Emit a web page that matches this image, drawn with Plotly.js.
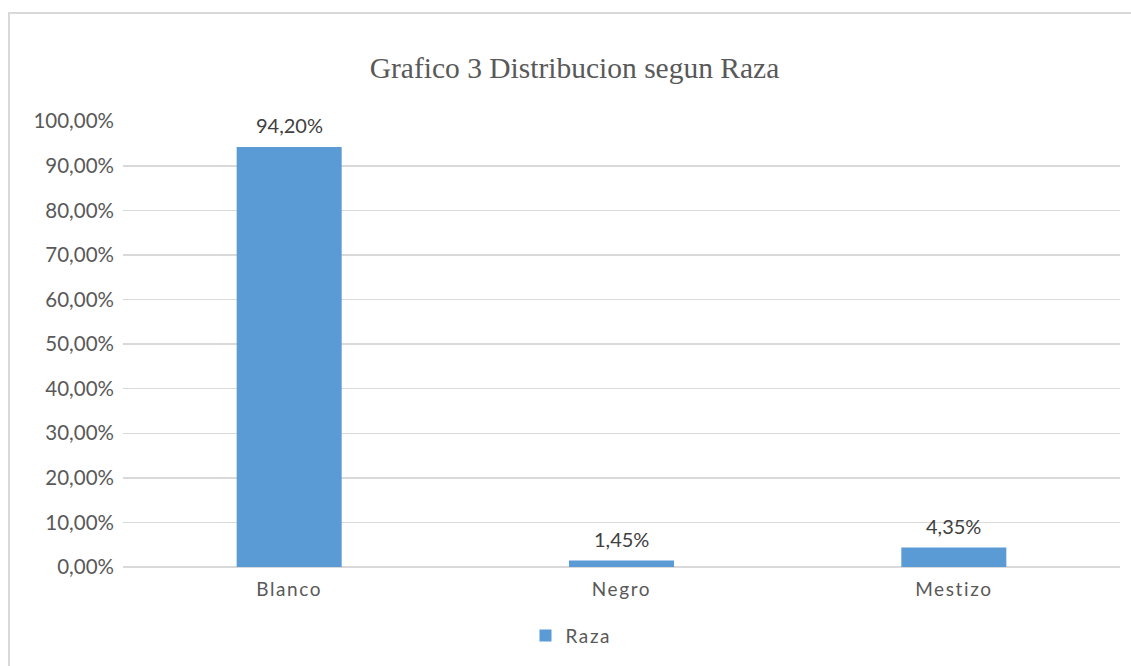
<!DOCTYPE html>
<html>
<head>
<meta charset="utf-8">
<script src="https://cdn.plot.ly/plotly-3.0.1.min.js"></script>
<style>
  html, body { margin: 0; padding: 0; background: #fff; }
  #wrap { position: relative; width: 1131px; height: 666px; overflow: hidden; }
  #frame { position: absolute; left: 8px; top: 12px; width: 1200px; height: 700px;
           border-left: 2px solid #d9d9d9; border-top: 2px solid #d9d9d9; pointer-events: none; }
  #chart { position: absolute; left: 0; top: 0; width: 1131px; height: 666px; }
  #chart .xtick text { letter-spacing: 1.6px; }
  #chart .legendtext { letter-spacing: 1.6px; }
</style>
</head>
<body>
<div id="wrap">
  <div id="chart"></div>
  <div id="frame"></div>
</div>
<script>
const categories = ['Blanco', 'Negro', 'Mestizo'];
const values = [0.942, 0.0145, 0.0435];
const seriesName = 'Raza';
const titleText = 'Grafico 3 Distribucion segun Raza';

const trace = {
  type: 'bar',
  x: categories,
  y: values,
  name: seriesName,
  marker: { color: '#5b9bd5' },
  showlegend: true,
  hoverinfo: 'skip'
};

const annotations = categories.map((c, i) => ({
  x: c, y: values[i], xref: 'x', yref: 'y',
  text: (values[i] * 100).toFixed(2).replace('.', ',') + '%',
  showarrow: false, yanchor: 'bottom', yshift: 8,
  font: { family: 'Lato, Carlito, sans-serif', size: 20, color: '#404040' }
}));

const layout = {
  width: 1131, height: 666,
  margin: { l: 123, r: 11, t: 121, b: 97 },
  paper_bgcolor: '#ffffff', plot_bgcolor: '#ffffff',
  separators: ',.',
  bargap: 0.684,
  title: {
    text: titleText,
    font: { family: '"Liberation Serif", "Times New Roman", serif', size: 29.5, color: '#595959' },
    x: 574.5 / 1131, xanchor: 'center', y: 1 - 68 / 666, yanchor: 'middle', xref: 'container', yref: 'container'
  },
  xaxis: {
    type: 'category',
    showgrid: false, showline: false, zeroline: false,
    ticks: '', ticklabelstandoff: 9,
    tickfont: { family: 'Lato, Carlito, sans-serif', size: 19, color: '#595959' }
  },
  yaxis: {
    range: [0, 1.0005],
    tickvals: [0, 0.1, 0.2, 0.3, 0.4, 0.5, 0.6, 0.7, 0.8, 0.9, 1.0],
    tickformat: '.2%',
    showgrid: true, gridcolor: '#d9d9d9', gridwidth: 1.5,
    zeroline: true, zerolinecolor: '#d9d9d9', zerolinewidth: 1.5,
    showline: false, ticks: '', ticklabelstandoff: 8,
    tickfont: { family: 'Lato, Carlito, sans-serif', size: 20.5, color: '#595959' }
  },
  legend: {
    orientation: 'h', x: (568 - 123) / 997, xanchor: 'center', y: -0.154, yanchor: 'middle',
    font: { family: 'Lato, Carlito, sans-serif', size: 19, color: '#595959' }
  },
  annotations: annotations
};

Plotly.newPlot('chart', [trace], layout, { staticPlot: true, displayModeBar: false });
</script>
</body>
</html>
